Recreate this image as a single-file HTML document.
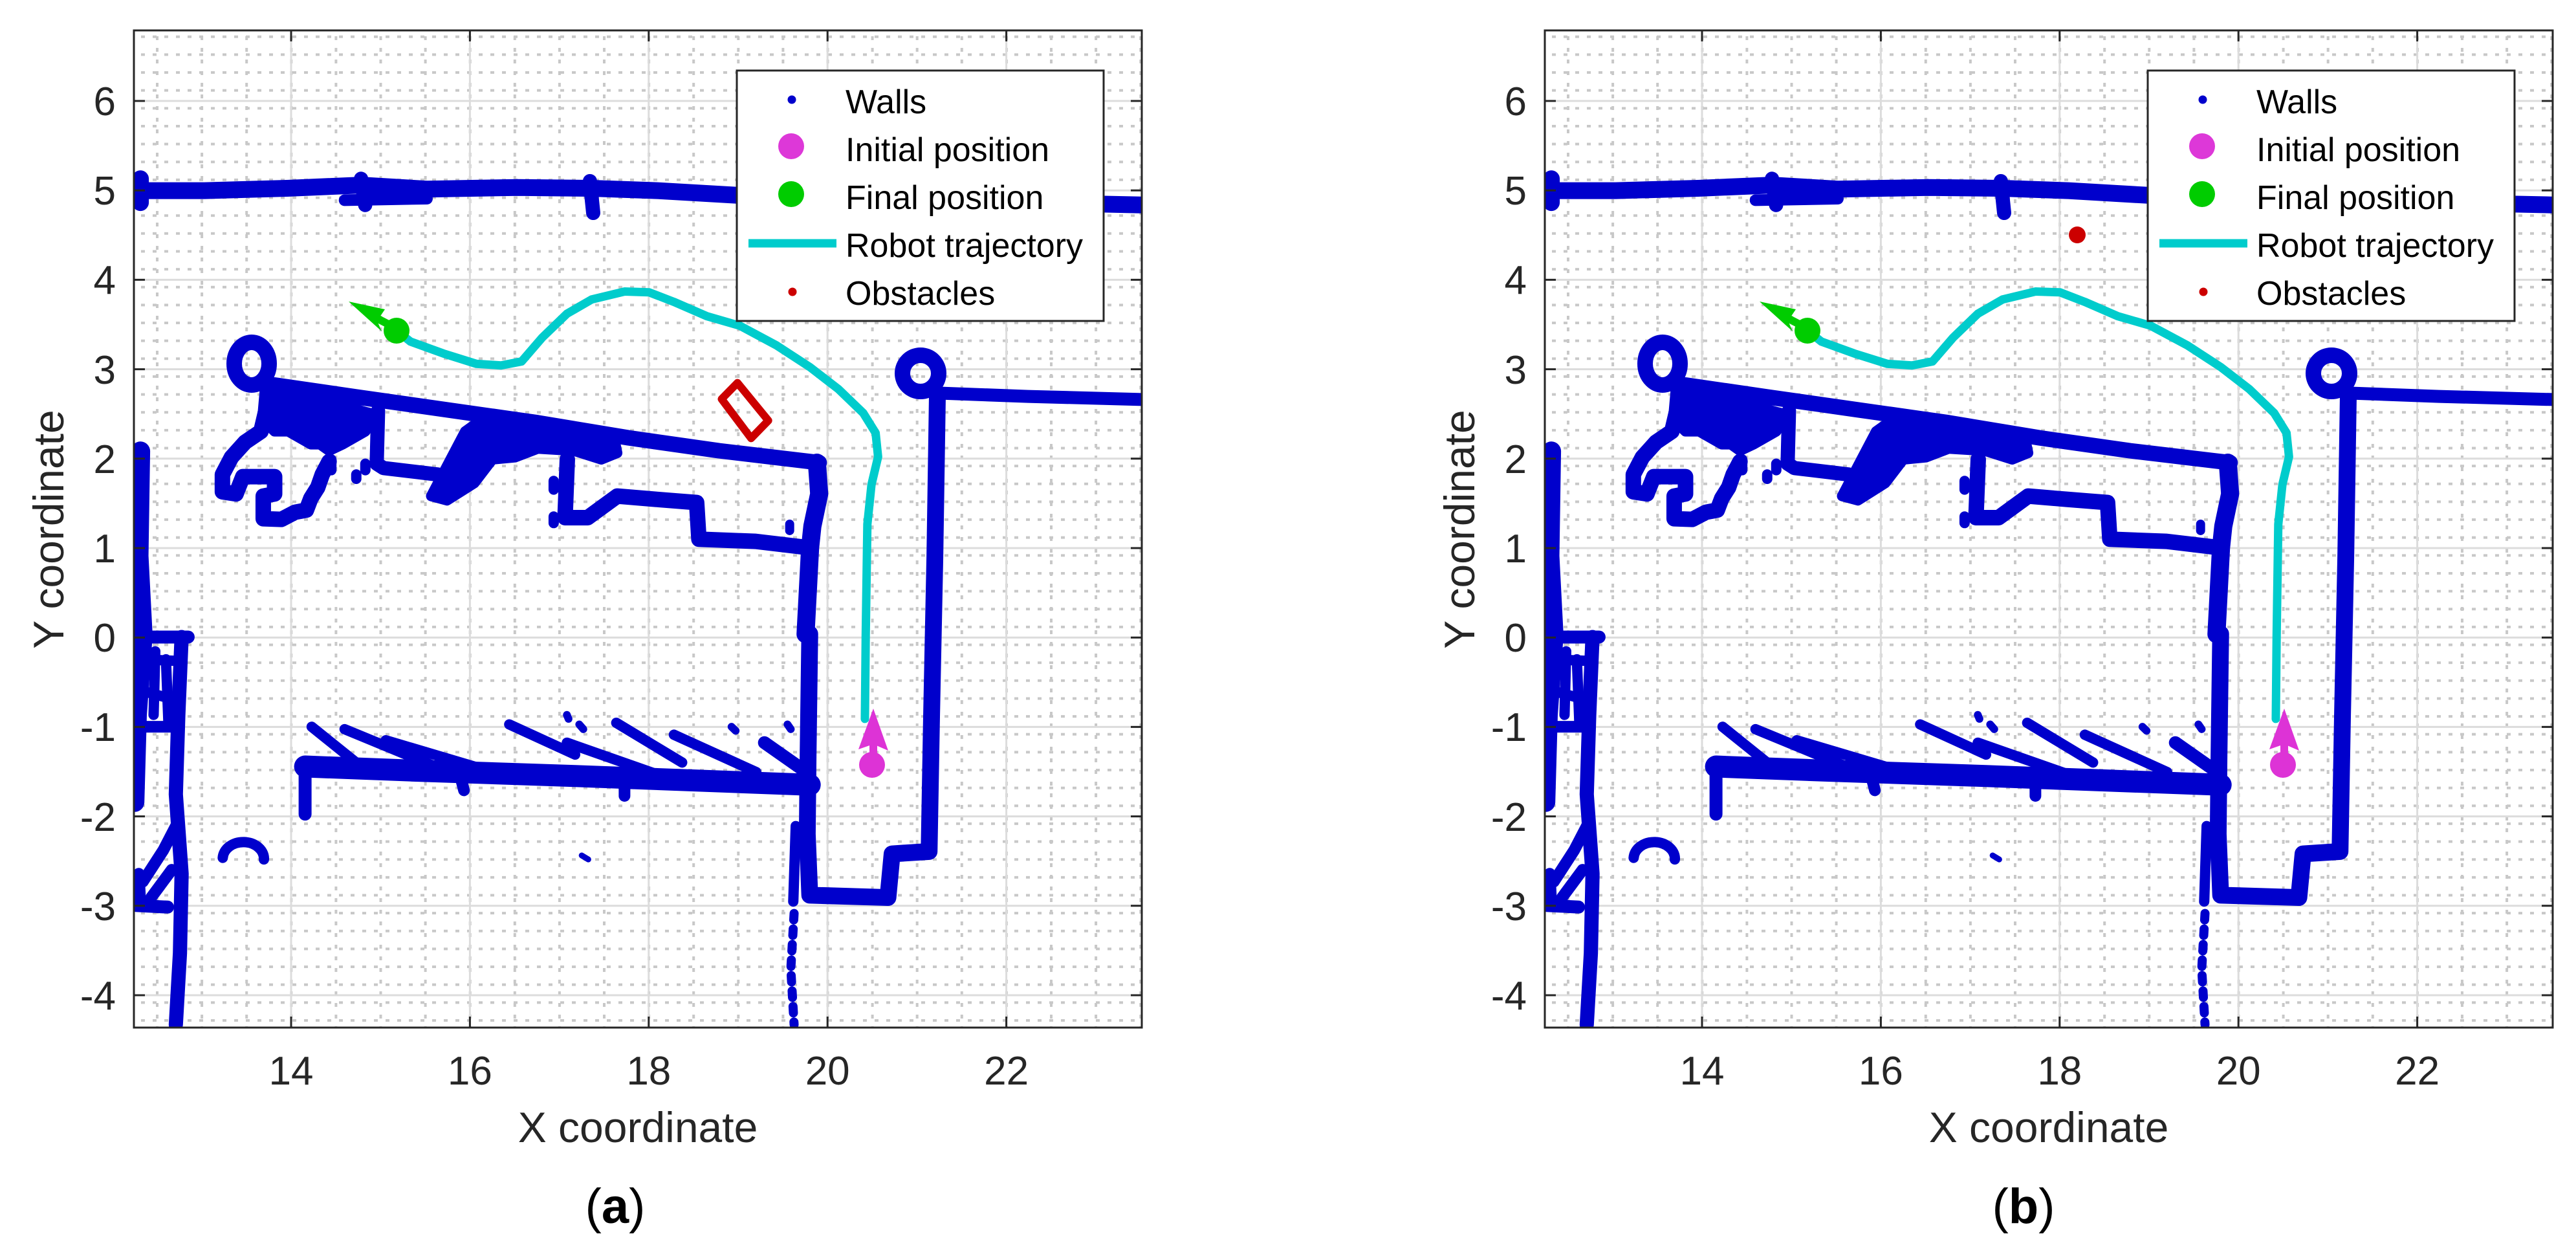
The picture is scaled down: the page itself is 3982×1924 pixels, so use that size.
<!DOCTYPE html>
<html><head><meta charset="utf-8"><style>
html,body{margin:0;padding:0;background:#fff;}
svg{display:block;}
text{font-family:"Liberation Sans",Arial,sans-serif;}
</style></head><body>
<svg width="3982" height="1924" viewBox="0 0 3982 1924" xmlns="http://www.w3.org/2000/svg">
<defs>
<pattern id="vd" patternUnits="userSpaceOnUse" x="241" y="0" width="69.1" height="18"><rect x="0" y="2" width="4" height="6" fill="#c8c8c8"/></pattern>
<pattern id="hd" patternUnits="userSpaceOnUse" x="0" y="-0.5" width="18" height="27.64"><rect x="2" y="0" width="6" height="4" fill="#c8c8c8"/></pattern>
<clipPath id="ax"><rect x="207" y="47" width="1558" height="1541"/></clipPath>

<g id="grid">
<rect x="207" y="47" width="1558" height="1541" fill="#fff"/>
<rect x="207" y="47" width="1558" height="1541" fill="url(#vd)"/>
<rect x="207" y="47" width="1558" height="1541" fill="url(#hd)"/>
<g stroke="#dcdcdc" stroke-width="3">
<line x1="450" y1="47" x2="450" y2="1588"/><line x1="726.4" y1="47" x2="726.4" y2="1588"/><line x1="1002.8" y1="47" x2="1002.8" y2="1588"/><line x1="1279.2" y1="47" x2="1279.2" y2="1588"/><line x1="1555.6" y1="47" x2="1555.6" y2="1588"/>
<line x1="207" y1="156" x2="1765" y2="156"/><line x1="207" y1="294.2" x2="1765" y2="294.2"/><line x1="207" y1="432.4" x2="1765" y2="432.4"/><line x1="207" y1="570.6" x2="1765" y2="570.6"/><line x1="207" y1="708.8" x2="1765" y2="708.8"/><line x1="207" y1="847" x2="1765" y2="847"/><line x1="207" y1="985.2" x2="1765" y2="985.2"/><line x1="207" y1="1123.4" x2="1765" y2="1123.4"/><line x1="207" y1="1261.6" x2="1765" y2="1261.6"/><line x1="207" y1="1399.8" x2="1765" y2="1399.8"/><line x1="207" y1="1538" x2="1765" y2="1538"/>
</g>
</g>

<g id="walls" clip-path="url(#ax)">
<g fill="none" stroke="#0000cc" stroke-linecap="round" stroke-linejoin="round">
<g transform="matrix(1.2726 0 0 1.2274 -1.8 0.1)">
<polyline vector-effect="non-scaling-stroke" stroke-width="26" points="163,240 250,240 350,237 440,233 520,238 630,236 720,237 800,240 900,246 1000,248 1100,250 1200,253 1300,256 1390,258"/>
<polyline vector-effect="non-scaling-stroke" stroke-width="26" points="172,225 172,255"/>
<polyline vector-effect="non-scaling-stroke" stroke-width="22" points="440,225 445,258"/>
<polyline vector-effect="non-scaling-stroke" stroke-width="22" points="718,228 722,268"/>
<polyline vector-effect="non-scaling-stroke" stroke-width="18" points="420,252 520,250"/>
<polyline vector-effect="non-scaling-stroke" stroke-width="30" points="172,568 170,700 175,800 168,900 165,1010"/>
<polyline vector-effect="non-scaling-stroke" stroke-width="20" points="165,802 230,802"/>
<polyline vector-effect="non-scaling-stroke" stroke-width="22" points="222,802 218,900 215,1000 222,1100 220,1200 215,1290"/>
<polyline vector-effect="non-scaling-stroke" stroke-width="16" points="172,830 215,832"/>
<polyline vector-effect="non-scaling-stroke" stroke-width="16" points="175,870 210,880"/>
<polyline vector-effect="non-scaling-stroke" stroke-width="18" points="165,915 215,915"/>
<polyline vector-effect="non-scaling-stroke" stroke-width="16" points="190,820 188,900"/>
<polyline vector-effect="non-scaling-stroke" stroke-width="16" points="203,830 206,910"/>
<polyline vector-effect="non-scaling-stroke" stroke-width="20" points="167,1140 205,1142"/>
<polyline vector-effect="non-scaling-stroke" stroke-width="18" points="170,1100 172,1140"/>
<polyline vector-effect="non-scaling-stroke" stroke-width="18" points="175,1110 200,1070 215,1040"/>
<polyline vector-effect="non-scaling-stroke" stroke-width="18" points="185,1130 210,1095"/>
<polyline vector-effect="non-scaling-stroke" stroke-width="26" points="985,798 983,950 982,1050 985,1127 1080,1130 1085,1075 1130,1072 1133,900 1137,700 1140,500"/>
<polyline vector-effect="non-scaling-stroke" stroke-width="20" points="1145,495 1250,499 1390,503"/>
<polyline vector-effect="non-scaling-stroke" stroke-width="16" points="968,1040 965,1135"/>
<polyline vector-effect="non-scaling-stroke" stroke-width="14" stroke-dasharray="10 14" points="966,1150 962,1220 966,1290"/>
<polyline vector-effect="non-scaling-stroke" stroke-width="34" points="372,965 500,970 700,977 985,988"/>
<polyline vector-effect="non-scaling-stroke" stroke-width="20" points="372,960 372,1025"/>
<polyline vector-effect="non-scaling-stroke" stroke-width="16" points="380,915 440,965"/>
<polyline vector-effect="non-scaling-stroke" stroke-width="16" points="420,918 530,965"/>
<polyline vector-effect="non-scaling-stroke" stroke-width="16" points="470,932 600,972"/>
<polyline vector-effect="non-scaling-stroke" stroke-width="16" points="620,912 700,950"/>
<polyline vector-effect="non-scaling-stroke" stroke-width="16" points="690,935 800,975"/>
<polyline vector-effect="non-scaling-stroke" stroke-width="16" points="750,910 830,960"/>
<polyline vector-effect="non-scaling-stroke" stroke-width="16" points="820,925 920,972"/>
<polyline vector-effect="non-scaling-stroke" stroke-width="20" points="930,935 985,975"/>
<polyline vector-effect="non-scaling-stroke" stroke-width="18" points="560,975 565,995"/>
<polyline vector-effect="non-scaling-stroke" stroke-width="18" points="760,985 760,1002"/>
<polyline vector-effect="non-scaling-stroke" stroke-width="12" points="690,900 692,905"/>
<polyline vector-effect="non-scaling-stroke" stroke-width="12" points="705,912 710,918"/>
<polyline vector-effect="non-scaling-stroke" stroke-width="12" points="890,915 895,920"/>
<polyline vector-effect="non-scaling-stroke" stroke-width="12" points="958,912 962,918"/>
<path vector-effect="non-scaling-stroke" stroke-width="16" d="M272,1080 A24 20 0 0 1 322,1082"/>
<polyline vector-effect="non-scaling-stroke" stroke-width="9" points="708,1077 716,1082"/>
</g>
<g transform="matrix(0.7015 0 0 0.3333 200 480)">
<polyline vector-effect="non-scaling-stroke" stroke-width="24" points="320,345 500,400 700,460 900,520 1100,590 1300,650 1520,705"/>
<polyline vector-effect="non-scaling-stroke" stroke-width="28" points="1515,705 1520,850 1505,1000 1500,1100 1495,1300 1490,1500"/>
<polyline vector-effect="non-scaling-stroke" stroke-width="24" points="305,350 300,470 290,560 255,610 225,680 205,760 205,840 235,850 250,770 320,770 320,850 295,860 295,965 335,968 365,935 390,925 400,870 415,820 425,760 440,700"/>
<polygon vector-effect="non-scaling-stroke" stroke-width="16" fill="#0000cc" points="300,380 360,390 420,410 470,440 520,470 540,480 520,560 470,620 440,650 420,620 400,620 350,560 320,560 300,520"/>
<polyline vector-effect="non-scaling-stroke" stroke-width="22" points="548,465 545,710 560,730 680,760"/>
<polygon vector-effect="non-scaling-stroke" stroke-width="16" fill="#0000cc" points="665,860 700,720 740,560 770,515 850,520 960,560 1070,610 1075,660 1040,690 980,650 900,640 850,680 800,690 760,800 700,880"/>
<polyline vector-effect="non-scaling-stroke" stroke-width="24" points="965,690 960,960 1010,960 1075,860 1160,875 1250,890 1255,1060 1380,1070 1500,1100"/>
<polyline vector-effect="non-scaling-stroke" stroke-width="16" points="935,790 935,830"/>
<polyline vector-effect="non-scaling-stroke" stroke-width="16" points="935,955 935,985"/>
<polyline vector-effect="non-scaling-stroke" stroke-width="14" points="1455,990 1455,1020"/>
<polyline vector-effect="non-scaling-stroke" stroke-width="16" points="445,690 445,740"/>
<polyline vector-effect="non-scaling-stroke" stroke-width="16" points="500,760 500,780"/>
<polyline vector-effect="non-scaling-stroke" stroke-width="16" points="520,710 520,740"/>
<polyline vector-effect="non-scaling-stroke" stroke-width="14" points="470,520 480,580"/>
</g>
<ellipse cx="389" cy="562" rx="27" ry="33" stroke-width="24"/>
<ellipse cx="1423" cy="577" rx="28" ry="28" stroke-width="24"/>
</g>
</g>

<g id="frame">
<g fill="none" stroke="#262626" stroke-width="3">
<rect x="207" y="47" width="1558" height="1541"/>
<path d="M450,1588v-17M726.4,1588v-17M1002.8,1588v-17M1279.2,1588v-17M1555.6,1588v-17M450,47v17M726.4,47v17M1002.8,47v17M1279.2,47v17M1555.6,47v17"/>
<path d="M207,156h17M207,294.2h17M207,432.4h17M207,570.6h17M207,708.8h17M207,847h17M207,985.2h17M207,1123.4h17M207,1261.6h17M207,1399.8h17M207,1538h17M1765,156h-17M1765,294.2h-17M1765,432.4h-17M1765,570.6h-17M1765,708.8h-17M1765,847h-17M1765,985.2h-17M1765,1123.4h-17M1765,1261.6h-17M1765,1399.8h-17M1765,1538h-17"/>
</g>
</g>
<g id="legend">
<rect x="1139" y="109" width="567" height="387" fill="#fff" stroke="#262626" stroke-width="3"/>
<circle cx="1224" cy="154" r="6.5" fill="#0000cc"/>
<circle cx="1223" cy="226" r="20" fill="#dd38d8"/>
<circle cx="1223" cy="300" r="20" fill="#00cc00"/>
<line x1="1157" y1="376" x2="1293" y2="376" stroke="#00cccc" stroke-width="13"/>
<circle cx="1225" cy="451" r="6.5" fill="#cc0000"/>
</g>
<g id="traj">
<g transform="matrix(1.2726 0 0 1.2274 -1.8 0.1)">
<polyline vector-effect="non-scaling-stroke" fill="none" stroke="#00cccc" stroke-width="13" stroke-linecap="round" stroke-linejoin="round" points="1052,905 1053,800 1055,660 1060,610 1068,575 1065,545 1050,520 1020,490 985,462 945,435 900,410 860,398 820,380 790,368 760,367 720,377 690,395 660,425 635,455 610,460 580,458 540,445 500,430 483,416"/>
</g>
<circle cx="1348" cy="1182" r="20" fill="#dd33d6"/>
<rect x="1344" y="1140" width="12" height="35" fill="#dd33d6"/>
<polygon points="1350,1095 1373,1160 1350,1150 1327,1158" fill="#dd33d6"/>
<circle cx="613" cy="511" r="20" fill="#00cc00"/>
<polygon points="539,466 595,478 583,496 590,512" fill="#00cc00"/>
<line x1="608" y1="505" x2="575" y2="488" stroke="#00cc00" stroke-width="12"/>
</g>
</defs>

<use href="#grid"/>
<use href="#walls"/>
<use href="#traj"/>
<g transform="matrix(0.7015 0 0 0.3333 200 480)">
<polygon vector-effect="non-scaling-stroke" fill="none" stroke="#cc0000" stroke-width="12" stroke-linejoin="round" points="1340,335 1408,510 1370,592 1305,410"/>
</g>
<use href="#frame"/>
<use href="#legend"/>

<g transform="translate(2181,0)">
<use href="#grid"/>
<use href="#walls"/>
<use href="#traj"/>
<circle cx="1030" cy="363" r="13" fill="#cc0000"/>
<use href="#frame"/>
<use href="#legend"/>
</g>

<g font-size="62" fill="#262626">
<g text-anchor="middle">
<text x="450" y="1676">14</text><text x="726.4" y="1676">16</text><text x="1002.8" y="1676">18</text><text x="1279.2" y="1676">20</text><text x="1555.6" y="1676">22</text>
<text x="2631" y="1676">14</text><text x="2907.4" y="1676">16</text><text x="3183.8" y="1676">18</text><text x="3460.2" y="1676">20</text><text x="3736.6" y="1676">22</text>
</g>
<g text-anchor="end">
<text x="179" y="178">6</text><text x="179" y="316">5</text><text x="179" y="454">4</text><text x="179" y="593">3</text><text x="179" y="731">2</text><text x="179" y="869">1</text><text x="179" y="1007">0</text><text x="179" y="1145">-1</text><text x="179" y="1284">-2</text><text x="179" y="1422">-3</text><text x="179" y="1560">-4</text>
<text x="2360" y="178">6</text><text x="2360" y="316">5</text><text x="2360" y="454">4</text><text x="2360" y="593">3</text><text x="2360" y="731">2</text><text x="2360" y="869">1</text><text x="2360" y="1007">0</text><text x="2360" y="1145">-1</text><text x="2360" y="1284">-2</text><text x="2360" y="1422">-3</text><text x="2360" y="1560">-4</text>
</g>
<g font-size="66" text-anchor="middle">
<text x="986" y="1765">X coordinate</text>
<text x="3167" y="1765">X coordinate</text>
<text transform="translate(98,818) rotate(-90)">Y coordinate</text>
<text transform="translate(2279,818) rotate(-90)">Y coordinate</text>
</g>
</g>
<g font-size="52" fill="#000">
<text x="1307" y="175">Walls</text><text x="1307" y="249">Initial position</text><text x="1307" y="323">Final position</text><text x="1307" y="397">Robot trajectory</text><text x="1307" y="471">Obstacles</text>
<text x="3488" y="175">Walls</text><text x="3488" y="249">Initial position</text><text x="3488" y="323">Final position</text><text x="3488" y="397">Robot trajectory</text><text x="3488" y="471">Obstacles</text>
</g>
<g font-family="'Liberation Serif',serif" font-size="76" fill="#000" text-anchor="middle">
<text x="951" y="1890">(<tspan font-weight="bold">a</tspan>)</text>
<text x="3128" y="1890">(<tspan font-weight="bold">b</tspan>)</text>
</g>
</svg>
</body></html>
